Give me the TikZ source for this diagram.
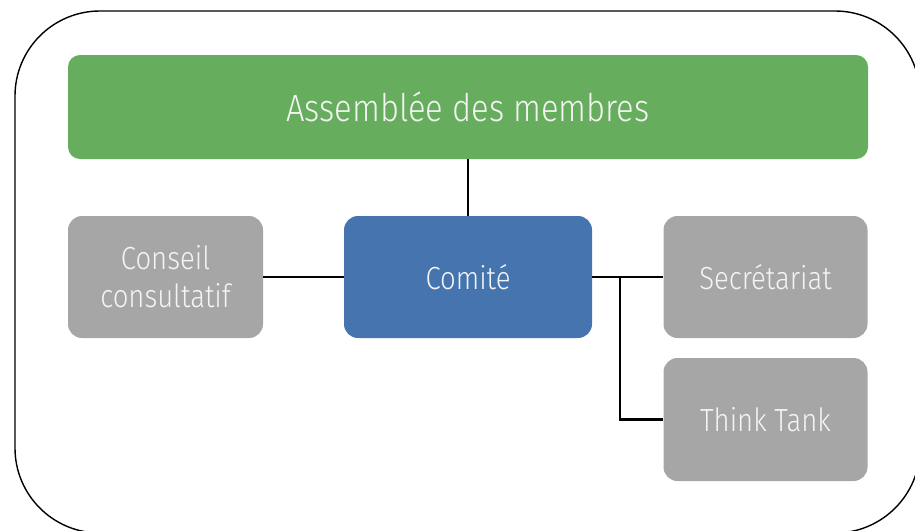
\documentclass[tikz,border=0pt]{standalone}
\usepackage{fontspec}
\setmainfont{Fira Sans Light}[FakeStretch=0.86]
\definecolor{grn}{HTML}{66AD5D}
\definecolor{blu}{HTML}{4674AF}
\definecolor{gry}{HTML}{A6A6A6}
\definecolor{txt}{HTML}{F4F4F4}
\begin{document}
\begin{tikzpicture}[x=1pt,y=-1pt,
  box/.style={rounded corners=14pt,text=txt,align=center,inner sep=0pt},
  conn/.style={line width=2.8pt,black}]
\useasboundingbox (0,0) rectangle (915,530);
\draw[line width=1.4pt,rounded corners=85pt] (15,11) rectangle (920,533);
\node[box,fill=grn,rounded corners=12pt,minimum width=800pt,minimum height=104pt,font=\fontsize{38}{44}\selectfont] (asm) at (468,107) {Assemblée des membres};
\node[box,fill=blu,minimum width=248pt,minimum height=122pt,font=\fontsize{32}{38}\selectfont] (com) at (468,277) {Comité};
\node[box,fill=gry,minimum width=195pt,minimum height=122pt,font=\fontsize{32}{38}\selectfont] (cons) at (165.5,277) {Conseil\\consultatif};
\node[box,fill=gry,minimum width=204pt,minimum height=122pt,font=\fontsize{32}{38}\selectfont] (sec) at (765.5,277) {Secrétariat};
\node[box,fill=gry,minimum width=204pt,minimum height=123pt,font=\fontsize{32}{38}\selectfont] (tt) at (765.5,419.5) {Think Tank};
\coordinate (br) at (620,277);
\draw[conn] (asm.south) -- (com.north);
\draw[conn] (cons.east) -- (com.west);
\draw[conn] (com.east) -- (sec.west);
\draw[conn] (br) |- (tt.west);
\end{tikzpicture}
\end{document}
